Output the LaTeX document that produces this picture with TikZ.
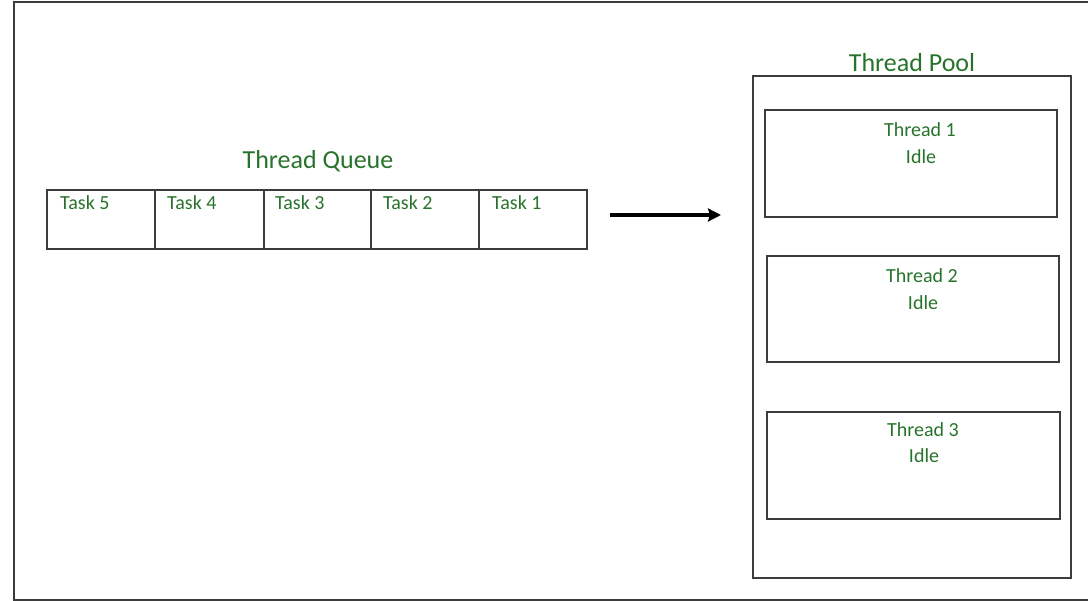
\documentclass[tikz,border=0pt]{standalone}
\usepackage{fontspec}
\setmainfont{Carlito}
\usetikzlibrary{arrows.meta}
\definecolor{txtgreen}{RGB}{40,115,44}
\definecolor{linegray}{RGB}{60,60,60}
\tikzset{
  box/.style={draw=linegray, line width=1.4pt, rectangle, inner sep=0pt, outer sep=0pt, anchor=north west},
  tasklbl/.style={text=txtgreen, font=\fontsize{20}{24}\selectfont, anchor=base west, inner sep=0pt},
  titlelbl/.style={text=txtgreen, font=\fontsize{26}{30}\selectfont, anchor=base, inner sep=0pt},
  thrlbl/.style={text=txtgreen, font=\fontsize{20}{24}\selectfont, anchor=base, inner sep=0pt},
}
\begin{document}
\begin{tikzpicture}[x=1pt,y=-1pt]
\useasboundingbox (0,0) rectangle (1088,601);
% outer frame (open on the right)
\draw[linegray, line width=1.6pt] (1088,2) -- (14,2) -- (14,600) -- (1088,600);
% queue cells
\node[box, minimum width=108pt, minimum height=59pt] (t5) at (47,190) {};
\node[box, minimum width=109pt, minimum height=59pt] (t4) at (155,190) {};
\node[box, minimum width=107pt, minimum height=59pt] (t3) at (264,190) {};
\node[box, minimum width=108pt, minimum height=59pt] (t2) at (371,190) {};
\node[box, minimum width=108pt, minimum height=59pt] (t1) at (479,190) {};
\node[tasklbl] (l5) at (60,210) {Task 5};
\node[tasklbl] (l4) at (167,210) {Task 4};
\node[tasklbl] (l3) at (275,210) {Task 3};
\node[tasklbl] (l2) at (383,210) {Task 2};
\node[tasklbl] (l1) at (492,210) {Task 1};
\node[titlelbl] (qtitle) at (318,169) {Thread Queue};
% arrow
\coordinate (as) at (610,215);
\coordinate (ae) at (721,215);
\draw[black, line width=4pt, -{Stealth[length=13pt,width=13pt,inset=2pt]}] (as) -- (ae);
% pool
\node[box, minimum width=318pt, minimum height=502pt] (pool) at (753,76) {};
\node[titlelbl] (ptitle) at (912,72) {Thread Pool};
\node[box, minimum width=292pt, minimum height=107pt] (th1) at (765,110) {};
\node[box, minimum width=292pt, minimum height=106pt] (th2) at (767,256) {};
\node[box, minimum width=293pt, minimum height=107pt] (th3) at (767,412) {};
\node[thrlbl] (n1) at (920,137) {Thread 1};
\node[thrlbl] (i1) at (921,164) {Idle};
\node[thrlbl] (n2) at (922,283) {Thread 2};
\node[thrlbl] (i2) at (923,310) {Idle};
\node[thrlbl] (n3) at (923,437) {Thread 3};
\node[thrlbl] (i3) at (924,463) {Idle};
\end{tikzpicture}
\end{document}
